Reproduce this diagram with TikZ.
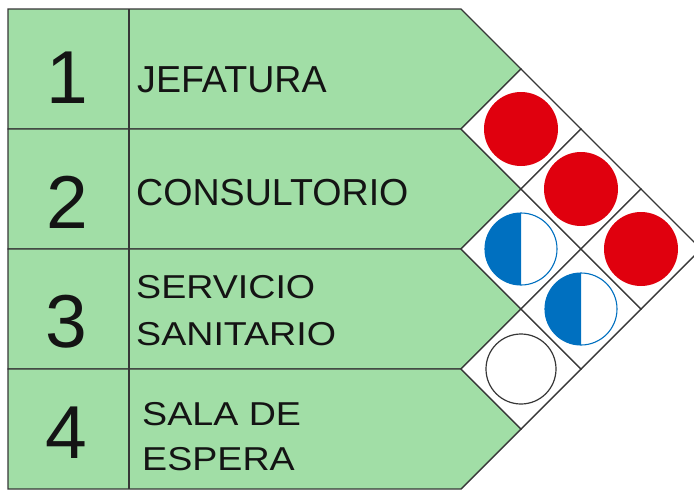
\documentclass[tikz,border=0pt]{standalone}
\usepackage{fontspec}
\setmainfont{Liberation Sans}
\definecolor{rowgreen}{RGB}{161,222,166}
\definecolor{cellred}{RGB}{224,0,14}
\definecolor{cellblue}{RGB}{0,112,192}
\definecolor{linegray}{RGB}{55,55,55}
\definecolor{txt}{RGB}{20,20,20}
\tikzset{
  rowshape/.style={draw=linegray, line width=1.4pt, fill=rowgreen, line join=miter},
  cellshape/.style={draw=linegray, line width=1.4pt, fill=white},
  num/.style={anchor=base, inner sep=0pt, text=txt, font=\fontsize{75}{75}\selectfont},
  lab/.style={anchor=base west, inner sep=0pt, text=txt, font=\fontsize{37.6}{37.6}\selectfont},
}
\newcommand{\squish}[1]{\scalebox{1}[0.88]{#1}}
\begin{document}
\begin{tikzpicture}[x=1pt,y=-1pt]
\useasboundingbox (0,0) rectangle (694,493);
\clip (0,0) rectangle (694,493);
% rows
\foreach \i in {0,1,2,3}{
  \pgfmathsetmacro{\t}{9+120*\i}
  \draw[rowshape] (8,\t) -- (461,\t) -- (521,\t+60) -- (461,\t+120) -- (8,\t+120) -- cycle;
}
\draw[linegray, line width=1.4pt] (129,9) -- (129,489);
% cells
\foreach \i/\j in {1/2,2/3,3/4,1/3,2/4,1/4}{
  \pgfmathsetmacro{\cx}{461+60*(\j-\i)}
  \pgfmathsetmacro{\cy}{69+60*(\i+\j-2)}
  \draw[cellshape] (\cx-60,\cy) -- (\cx,\cy-60) -- (\cx+60,\cy) -- (\cx,\cy+60) -- cycle;
}
% red marks
\foreach \cx/\cy in {521/129, 581/189, 641/249}{
  \fill[cellred] (\cx,\cy) circle[radius=37];
}
% half blue marks
\foreach \cx/\cy in {521/249, 581/309}{
  \fill[white] (\cx,\cy) circle[radius=36];
  \fill[cellblue] (\cx,\cy+36) arc[start angle=90, end angle=270, radius=36] -- cycle;
  \draw[cellblue, line width=1.1pt] (\cx,\cy) circle[radius=36];
}
% empty mark
\draw[linegray, line width=1.2pt, fill=white] (521,369) circle[radius=35];
% numbers
\node[num] (n1) at (67,103) {1};
\node[num] (n2) at (67,228) {2};
\node[num] (n3) at (66,347) {3};
\node[num] (n4) at (66,458) {4};
% labels
\node[lab] (l1) at (137,92) {JEFATURA};
\node[lab] (l2) at (136,205) {CONSULTORIO};
\node[lab] (l3a) at (136,298) {\squish{SERVICIO}};
\node[lab] (l3b) at (136,345) {\squish{SANITARIO}};
\node[lab] (l4a) at (142,425) {\squish{SALA DE}};
\node[lab] (l4b) at (142,470) {\squish{ESPERA}};
\end{tikzpicture}
\end{document}
